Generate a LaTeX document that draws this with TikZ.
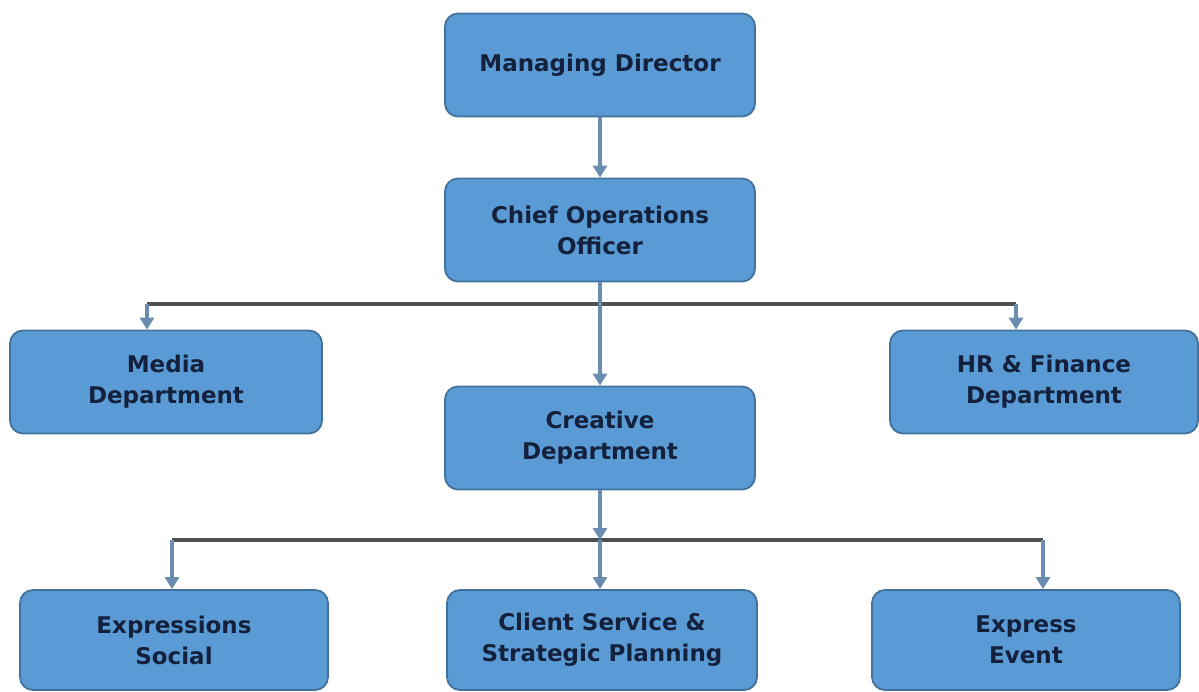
\documentclass[tikz,border=0pt]{standalone}
\usepackage{fontspec}
\setmainfont{DejaVu Sans}
\usepackage{xcolor}
\usetikzlibrary{arrows.meta}

\definecolor{boxfill}{HTML}{5B9BD5}
\definecolor{boxline}{HTML}{41719C}
\definecolor{boxtext}{HTML}{14213D}
\definecolor{linkline}{HTML}{6A8CAF}
\definecolor{busline}{HTML}{505050}

\begin{document}
\begin{tikzpicture}[
    x=1pt, y=1pt,
    node distance=165pt,
    box/.style={rectangle, rounded corners=13pt, draw=boxline, line width=1.8pt, fill=boxfill,
        minimum width=310pt, minimum height=103pt, align=center, text=boxtext,
        font=\fontsize{23}{31}\selectfont\bfseries},
    arrow/.style={-{Triangle[width=14pt,length=12pt]}, draw=linkline, line width=3.2pt},
    bus/.style={draw=busline, line width=3.2pt}
]
    \useasboundingbox (0,0) rectangle (1199,-692);
    % Top of the chart
    \node[box] (md) at (600,-65) {Managing Director};
    \node[box, below of=md] (coo) {Chief Operations\\Officer};
    % Departments
    \node[box, below of=coo, node distance=152pt, xshift=-434pt, minimum width=312pt] (media) {Media\\Department};
    \node[box, below of=coo, node distance=208pt] (creative) {Creative\\Department};
    \node[box, below of=coo, node distance=152pt, xshift=444pt, minimum width=308pt] (hr) {HR \& Finance\\Department};
    % Units under the creative department
    \node[box, below of=creative, node distance=202pt, xshift=-426pt, minimum width=308pt, minimum height=100pt] (social) {Expressions\\Social};
    \node[box, below of=creative, node distance=202pt, xshift=2pt, minimum height=100pt] (client) {Client Service \&\\Strategic Planning};
    \node[box, below of=creative, node distance=202pt, xshift=426pt, minimum width=308pt, minimum height=100pt] (event) {Express\\Event};
    % Bus lines
    \coordinate (busL) at (147,-304);
    \coordinate (busR) at (1016,-304);
    \coordinate (subL) at (172,-540);
    \coordinate (subM) at (600,-540);
    \coordinate (subR) at (1043,-540);
    \draw[bus] (busL) -- (busR);
    \draw[bus] (subL) -- (subR);
    % Arrows
    \draw[arrow] (md) -- (coo);
    \draw[arrow] (coo) -- (creative);
    \draw[arrow] (busL) -- (busL |- media.north);
    \draw[arrow] (busR) -- (busR |- hr.north);
    \draw[arrow] (creative) -- (subM);
    \draw[arrow] (subL) -- (subL |- social.north);
    \draw[arrow] (subM) -- (subM |- client.north);
    \draw[arrow] (subR) -- (subR |- event.north);
\end{tikzpicture}
\end{document}
